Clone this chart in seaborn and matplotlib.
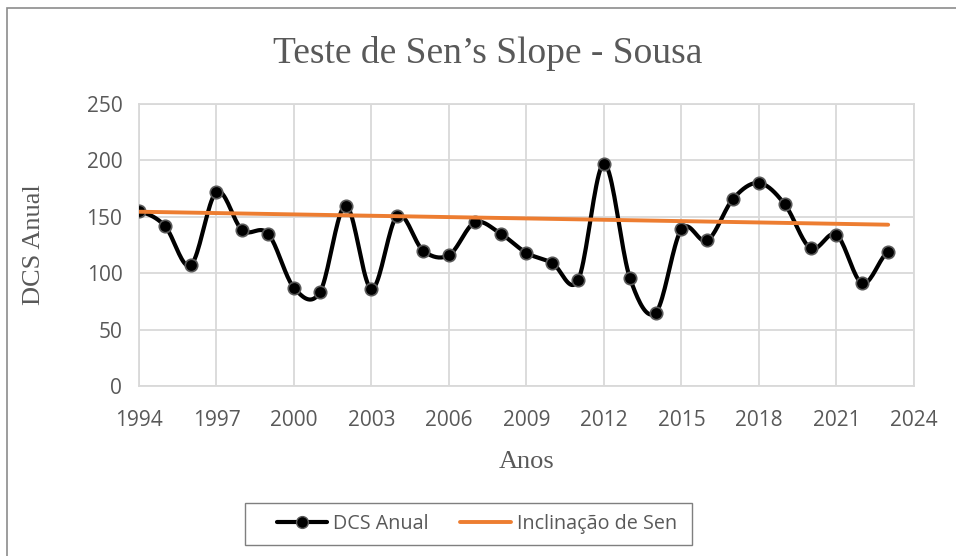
import matplotlib
matplotlib.use("Agg")
import matplotlib.pyplot as plt
import numpy as np
import pandas as pd
import seaborn as sns
from matplotlib.lines import Line2D
from matplotlib.patches import Rectangle

years = list(range(1994, 2024))
dcs_anual = [155, 142, 107, 172, 138, 135, 87, 83, 160, 86,
             151, 120, 116, 145, 135, 118, 109, 94, 197, 96,
             65, 139, 129, 166, 180, 161, 122, 134, 91, 119]
sen_years = [1994, 2023]
sen_values = [154.5, 143.0]

x_ticks = list(range(1994, 2025, 3))
y_ticks = [0, 50, 100, 150, 200, 250]

title = "Teste de Sen\u2019s Slope - Sousa"
label_series = "DCS Anual"
label_sen = "Inclina\u00e7\u00e3o de Sen"

GRAY_TXT = "#595959"
GRID = "#d9d9d9"
ORANGE = "#ed7d31"


def smooth_curve(x, y, n=20):
    # excel-like smoothed line (catmull-rom through the points)
    x = np.asarray(x, float)
    y = np.asarray(y, float)
    xs, ys = [], []
    for i in range(len(x) - 1):
        y0 = y[i - 1] if i > 0 else y[i]
        y3 = y[i + 2] if i + 2 < len(y) else y[i + 1]
        m1 = (y[i + 1] - y0) / 2
        m2 = (y3 - y[i]) / 2
        t = np.linspace(0, 1, n, endpoint=False)
        h00 = 2 * t**3 - 3 * t**2 + 1
        h10 = t**3 - 2 * t**2 + t
        h01 = -2 * t**3 + 3 * t**2
        h11 = t**3 - t**2
        xs.append(x[i] + t * (x[i + 1] - x[i]))
        ys.append(h00 * y[i] + h10 * m1 + h01 * y[i + 1] + h11 * m2)
    xs.append([x[-1]])
    ys.append([y[-1]])
    return np.concatenate(xs), np.concatenate(ys)


sns.set_theme(style="white")
plt.rcParams["font.family"] = ["Open Sans", "DejaVu Sans"]

W, H = 956, 556
fig = plt.figure(figsize=(W / 100, H / 100), dpi=100)
ax = fig.add_axes([139 / W, 1 - 386 / H, (914 - 139) / W, (386 - 104) / H])

df = pd.DataFrame({"ano": years, "dcs": dcs_anual})
sx, sy = smooth_curve(df["ano"], df["dcs"])
sns.lineplot(x=sx, y=sy, color="black", linewidth=3, ax=ax, sort=False, zorder=3)
sns.scatterplot(data=df, x="ano", y="dcs", color="black", s=80,
                edgecolor="#595959", linewidth=1.2, ax=ax, zorder=4)
sns.lineplot(x=sen_years, y=sen_values, color=ORANGE, linewidth=2.8, ax=ax, zorder=5)

ax.set_xlim(1994, 2024)
ax.set_ylim(0, 250)
ax.set_xticks(x_ticks)
ax.set_yticks(y_ticks)
ax.grid(True, color=GRID, linewidth=1.3)
ax.set_axisbelow(True)
for side in ax.spines.values():
    side.set_color(GRID)
    side.set_linewidth(1.3)
ax.tick_params(axis="both", length=0, labelsize=15, labelcolor=GRAY_TXT)
ax.tick_params(axis="x", pad=17)
ax.tick_params(axis="y", pad=12)

serif = ["Liberation Serif", "DejaVu Serif"]
ax.set_xlabel("Anos", family=serif, fontsize=19, color=GRAY_TXT, labelpad=15)
ax.set_ylabel("DCS Anual", family=serif, fontsize=19, color=GRAY_TXT, labelpad=30)
fig.text(488 / W, 1 - 63 / H, title, family=serif, fontsize=27, color=GRAY_TXT,
         ha="center", va="baseline")

# legend box drawn separately, entries placed inside it
fig.patches.append(Rectangle((245 / W, 1 - 545 / H), (692 - 245) / W, 42 / H,
                             transform=fig.transFigure, fill=True, facecolor="white",
                             edgecolor="#7f7f7f", linewidth=1, zorder=5))
handles = [
    Line2D([], [], color="black", linewidth=3, marker="o", markersize=8.5,
           markerfacecolor="black", markeredgecolor="#595959"),
    Line2D([], [], color=ORANGE, linewidth=2.8),
]
leg = fig.legend(handles, [label_series, label_sen], loc="center left",
                 bbox_to_anchor=(277 / W, 1 - 524 / H), ncol=2, frameon=False,
                 fontsize=14.2, handlelength=2.55, columnspacing=1.6,
                 handletextpad=0.3, borderpad=0, borderaxespad=0)
leg.set_zorder(6)
for t in leg.get_texts():
    t.set_color(GRAY_TXT)

# outer chart border
fig.patches.append(Rectangle((7 / W, -0.1), 1.2, 1 - 8 / H + 0.1,
                             transform=fig.transFigure, fill=False,
                             edgecolor="#8c8c8c", linewidth=1.2))

fig.savefig("out.png", dpi=100)
